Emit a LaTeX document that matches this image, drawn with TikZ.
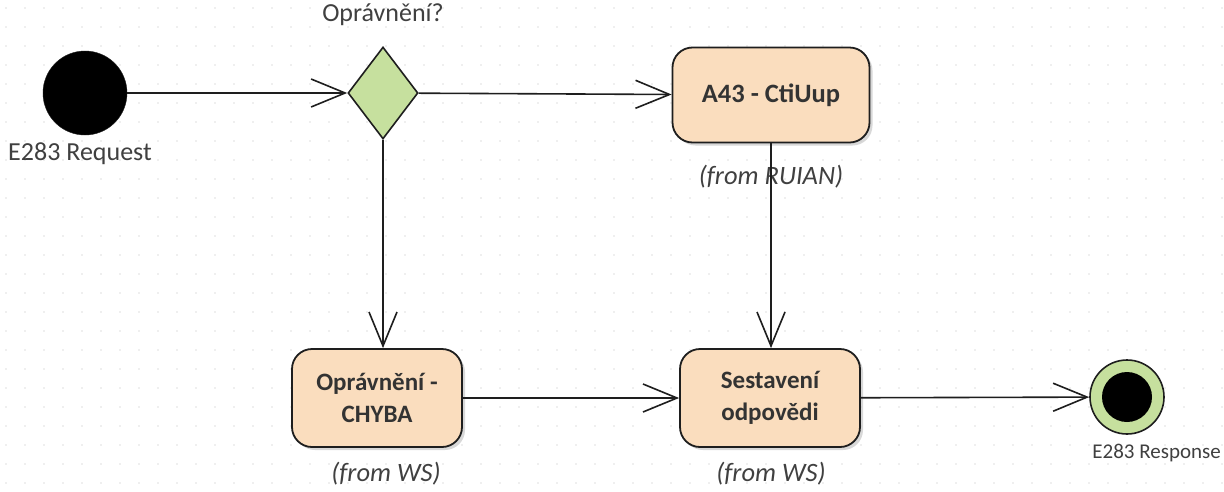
\documentclass[tikz,border=0pt]{standalone}
\usepackage{fontspec}
\setmainfont{Carlito}
\usetikzlibrary{shapes.geometric,arrows.meta,shadows}
\definecolor{peach}{RGB}{250,221,190}
\definecolor{leaf}{RGB}{198,224,158}
\definecolor{ink}{RGB}{30,30,30}
\definecolor{txt}{RGB}{64,64,64}
\begin{document}
\begin{tikzpicture}[x=1pt,y=-1pt,
  act/.style={draw=ink, line width=1.8pt, rounded corners=20pt, fill=peach,
    align=center, inner sep=0pt, text=black!80,
    font=\fontsize{25}{32}\selectfont\bfseries,
    drop shadow={shadow xshift=3pt, shadow yshift=-3pt, fill=black!25, opacity=0.6}},
  lbl/.style={text=txt, font=\fontsize{26}{30}\selectfont},
  from/.style={text=txt, font=\fontsize{26.5}{30}\selectfont\itshape},
  flow/.style={draw=ink, line width=1.6pt, -{Straight Barb[length=34pt,width=28pt,line width=1.6pt]}}]
\fill[white] (0,0) rectangle (1224,491);
\useasboundingbox (0,0) rectangle (1224,491);
\foreach \gx in {6,25,...,1224}{\foreach \gy in {8,27,...,491}{\fill[black!12] (\gx,\gy) circle (0.8);}}
% nodes
\node[circle, fill=black, draw=ink, minimum size=84pt, inner sep=0pt] (start) at (85,93) {};
\node[lbl] (startl) at (80,154) {E283 Request};
\node[diamond, draw=ink, line width=1.6pt, fill=leaf, minimum width=70pt, minimum height=92pt, inner sep=0pt] (dec) at (383,93) {};
\node[lbl] (decl) at (383,15) {Oprávnění?};
\node[act, minimum width=197pt, minimum height=95pt, font=\fontsize{26.5}{32}\selectfont\bfseries] (a43) at (771,95) {A43 - CtiUup};
\node[from] (a43l) at (771,177) {(from RUIAN)};
\node[act, minimum width=170pt, minimum height=98pt] (opr) at (377,398) {Oprávnění -\\CHYBA};
\node[from] (oprl) at (386,474) {(from WS)};
\node[act, minimum width=180pt, minimum height=98pt] (ses) at (770,398) {Sestavení\\odpovědi};
\node[from] (sesl) at (771,474) {(from WS)};
\node[circle, fill=leaf, draw=ink, line width=1.6pt, minimum size=74pt, inner sep=0pt] (end) at (1127,397) {};
\node[circle, fill=black, minimum size=50pt, inner sep=0pt] (endin) at (end) {};
\node[lbl, font=\fontsize{21}{26}\selectfont, anchor=east, inner sep=0pt] (endl) at (1221,453) {E283 Response};
% connectors
\draw[flow] (start) -- (dec);
\draw[flow] (dec) -- (a43);
\draw[flow] (dec.south) -- (dec.south |- opr.north);
\draw[flow] (a43.south) -- (a43.south |- ses.north);
\draw[flow] (opr.east) -- (ses.west |- opr.east);
\draw[flow] (ses) -- (end);
\end{tikzpicture}
\end{document}
